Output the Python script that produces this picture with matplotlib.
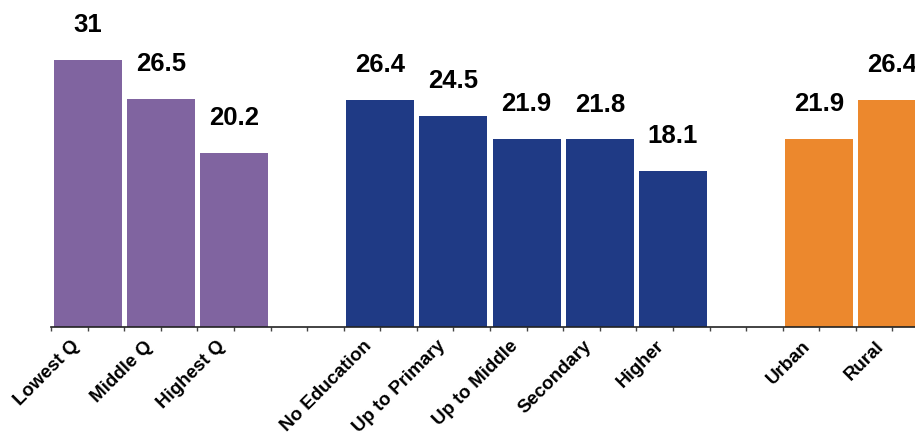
import numpy as np
import matplotlib.pyplot as plt

plt.rcParams['font.family'] = ['Liberation Sans', 'DejaVu Sans']

# 数据 (空字符串为组间空位)
categories = ['Lowest Q', 'Middle Q', 'Highest Q', '',
              'No Education', 'Up to Primary', 'Up to Middle', 'Secondary', 'Higher', '',
              'Urban', 'Rural']
values = [31, 26.5, 20.2, np.nan,
          26.4, 24.5, 21.9, 21.8, 18.1, np.nan,
          21.9, 26.4]
value_labels = ['31', '26.5', '20.2', '',
                '26.4', '24.5', '21.9', '21.8', '18.1', '',
                '21.9', '26.4']
groups = ['wealth', 'wealth', 'wealth', '',
          'edu', 'edu', 'edu', 'edu', 'edu', '',
          'res', 'res']

group_colors = {'wealth': '#8064A0', 'edu': '#1F3A85', 'res': '#EC882D', '': 'white'}

fig = plt.figure(figsize=(9.15, 4.36), dpi=100)
ax = fig.add_axes([51 / 915, 109 / 436, 878 / 915, 327 / 436])

x = np.arange(len(categories))
colors = [group_colors[g] for g in groups]
ax.bar(x, np.nan_to_num(values), width=0.93, color=colors)

# 数值标签
for xi, v, lab in zip(x, values, value_labels):
    if lab:
        ax.annotate(lab, (xi, v), xytext=(0, 20), textcoords='offset points',
                    ha='center', va='baseline', fontsize=18.5, fontweight='bold')

# 类别标签 (45度)
for xi, cat in zip(x, categories):
    if cat:
        ax.annotate(cat, (xi, 0), xycoords=ax.get_xaxis_transform(),
                    xytext=(-8, -12), textcoords='offset points',
                    rotation=45, ha='right', va='center', rotation_mode='anchor',
                    fontsize=13.5, fontweight='bold', annotation_clip=False)

ax.set_xlim(-0.5, len(categories) - 0.5)
ax.set_ylim(0, 38)

for s in ['left', 'right', 'top']:
    ax.spines[s].set_visible(False)
ax.spines['bottom'].set_linewidth(1.2)
ax.spines['bottom'].set_color('#222222')

ax.set_yticks([])
ax.set_xticks(np.arange(-0.5, len(categories), 0.5))
ax.set_xticklabels([])
ax.tick_params(axis='x', which='both', length=3, width=1, color='#444444')

fig.savefig('out.png', dpi=100)
